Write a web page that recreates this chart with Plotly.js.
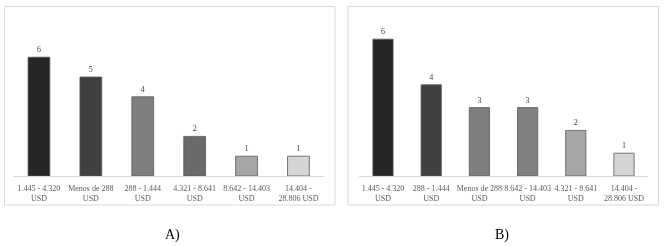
<!DOCTYPE html>
<html>
<head>
<meta charset="utf-8">
<script src="https://cdn.plot.ly/plotly-3.0.1.min.js"></script>
<style>html,body{margin:0;padding:0;background:#fff;}#chart{width:665px;height:246px;}
#chart svg{will-change:transform;}</style>
</head>
<body>
<div id="chart"></div>
<script>
// Panel A data
const catsA = ["1.445 - 4.320<br>USD", "Menos de 288<br>USD", "288 - 1.444<br>USD", "4.321 - 8.641<br>USD", "8.642 - 14.403<br>USD", "14.404 -<br>28.806 USD"];
const valsA = [6, 5, 4, 2, 1, 1];
const colorsA = ["#262626", "#404040", "#7f7f7f", "#6a6a6a", "#a6a6a6", "#d4d4d4"];
// Panel B data
const catsB = ["1.445 - 4.320<br>USD", "288 - 1.444<br>USD", "Menos de 288<br>USD", "8.642 - 14.403<br>USD", "4.321 - 8.641<br>USD", "14.404 -<br>28.806 USD"];
const valsB = [6, 4, 3, 3, 2, 1];
const colorsB = ["#262626", "#404040", "#7f7f7f", "#808080", "#a6a6a6", "#d4d4d4"];
const panelLabels = ["A)", "B)"];

const W = 665, H = 246;
const px = x => x / W;
const py = y => 1 - y / H;
const serif = "'Liberation Serif', 'DejaVu Serif', serif";

const traceA = {
  type: "bar", x: catsA, y: valsA, xaxis: "x", yaxis: "y",
  width: 0.42,
  marker: {color: colorsA, line: {color: "#595959", width: 0.8}},
  text: valsA.map(String), textposition: "outside", cliponaxis: false,
  textfont: {family: serif, size: 8, color: "#404040"},
  hoverinfo: "skip"
};
const traceB = {
  type: "bar", x: catsB, y: valsB, xaxis: "x2", yaxis: "y2",
  width: 0.42,
  marker: {color: colorsB, line: {color: "#595959", width: 0.8}},
  text: valsB.map(String), textposition: "outside", cliponaxis: false,
  textfont: {family: serif, size: 8, color: "#404040"},
  hoverinfo: "skip"
};

const xbase = {
  showline: true, linecolor: "#d9d9d9", linewidth: 1,
  ticks: "", showgrid: false, zeroline: false, fixedrange: true,
  ticklabelstandoff: 4,
  tickfont: {family: serif, size: 8, color: "#595959"}
};
const ybase = {visible: false, showgrid: false, zeroline: false, fixedrange: true};

const layout = {
  width: W, height: H,
  margin: {l: 0, r: 0, t: 0, b: 0},
  paper_bgcolor: "#ffffff", plot_bgcolor: "rgba(0,0,0,0)",
  showlegend: false,
  xaxis: Object.assign({}, xbase, {domain: [px(13), px(324.4)], anchor: "y"}),
  yaxis: Object.assign({}, ybase, {domain: [py(176), py(37.4)], range: [0, 7], anchor: "x"}),
  xaxis2: Object.assign({}, xbase, {domain: [px(358.9), px(648.1)], anchor: "y2"}),
  yaxis2: Object.assign({}, ybase, {domain: [py(176), py(27.8)], range: [0, 6.5], anchor: "x2"}),
  shapes: [
    {type: "rect", xref: "paper", yref: "paper", x0: px(4.5), x1: px(335), y0: py(6.5), y1: py(205), line: {color: "#d9d9d9", width: 1}},
    {type: "rect", xref: "paper", yref: "paper", x0: px(348), x1: px(658.5), y0: py(6.5), y1: py(205), line: {color: "#d9d9d9", width: 1}}
  ],
  annotations: [
    {text: panelLabels[0], xref: "paper", yref: "paper", x: px(172), y: py(235), xanchor: "center", yanchor: "middle", showarrow: false, font: {family: serif, size: 14, color: "#000000"}},
    {text: panelLabels[1], xref: "paper", yref: "paper", x: px(502), y: py(235), xanchor: "center", yanchor: "middle", showarrow: false, font: {family: serif, size: 14, color: "#000000"}}
  ]
};

Plotly.newPlot("chart", [traceA, traceB], layout, {staticPlot: true, displayModeBar: false});
</script>
</body>
</html>
